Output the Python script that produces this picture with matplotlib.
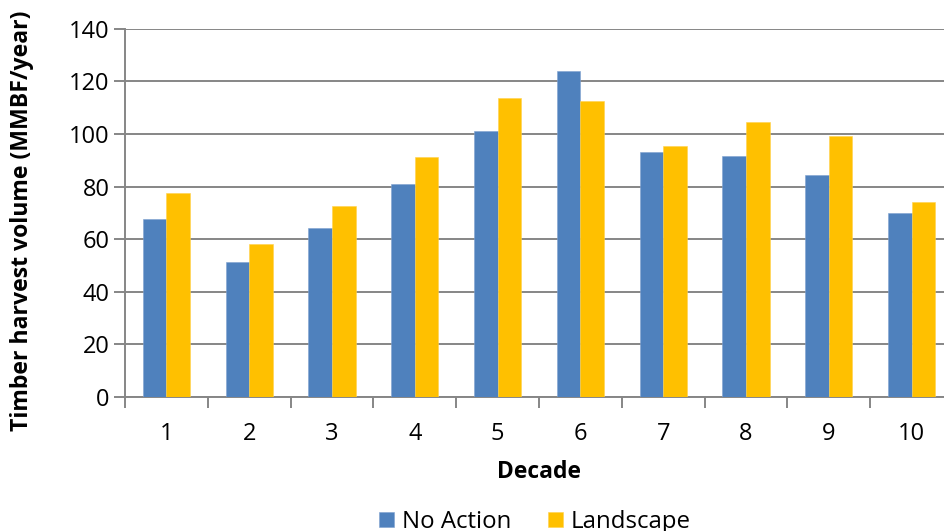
import matplotlib
matplotlib.use("Agg")
import matplotlib.pyplot as plt
import numpy as np

plt.rcParams['font.family'] = ['Open Sans', 'DejaVu Sans']

decades = ["1", "2", "3", "4", "5", "6", "7", "8", "9", "10"]
no_action = [67.7, 51.2, 64.3, 80.8, 101.0, 123.9, 93.0, 91.7, 84.2, 70.1]
landscape = [77.7, 58.1, 72.5, 91.1, 113.5, 112.5, 95.4, 104.4, 99.2, 74.0]
series_names = ["No Action", "Landscape"]
y_ticks = [0, 20, 40, 60, 80, 100, 120, 140]

blue = "#4F81BD"
gold = "#FFC000"
grid_gray = "#868686"

fig = plt.figure(figsize=(9.44, 5.31), dpi=100)
# plot area runs slightly past the right edge of the canvas
ax = fig.add_axes([125 / 944, 1 - 397 / 531, 828 / 944, (397 - 28.7) / 531])

x = np.arange(len(decades))
w = 0.284
b1 = ax.bar(x - w / 2, no_action, width=w, color=blue, edgecolor="#7FA2D0", linewidth=0.4, zorder=3)
b2 = ax.bar(x + w / 2, landscape, width=w, color=gold, edgecolor="#FFD24D", linewidth=0.4, zorder=3)

ax.set_xlim(-0.5, len(decades) - 0.5)
ax.set_ylim(0, 140)
ax.set_yticks(y_ticks)
ax.yaxis.grid(True, color=grid_gray, linewidth=1.4, zorder=0)
ax.set_axisbelow(True)

ax.set_xticks(x)
ax.set_xticklabels(decades)
ax.set_xticks(np.arange(-0.5, len(decades) + 0.5, 1), minor=True)
ax.tick_params(axis="x", which="major", length=0, pad=18, labelsize=17, colors="black")
ax.tick_params(axis="x", which="minor", length=8, width=1.4, color=grid_gray)
ax.tick_params(axis="y", length=8, width=1.4, color=grid_gray, labelsize=17, pad=3)

for s in ["top", "right"]:
    ax.spines[s].set_visible(False)
for s in ["left", "bottom"]:
    ax.spines[s].set_color(grid_gray)
    ax.spines[s].set_linewidth(1.4)

ax.set_xlabel("Decade", fontsize=16.5, fontweight="bold", labelpad=10)
fig.text(22 / 944, 1 - 221 / 531, "Timber harvest volume (MMBF/year)", rotation=90,
         ha="center", va="center", fontsize=16.6, fontweight="bold")

fig.legend([b1, b2], series_names, loc="center", bbox_to_anchor=(535 / 944, 1 - 522 / 531),
           ncol=2, frameon=False, fontsize=17.3, handlelength=0.62, handleheight=0.62,
           handletextpad=0.35, columnspacing=1.5, borderpad=0)

fig.savefig("out.png", dpi=100)
